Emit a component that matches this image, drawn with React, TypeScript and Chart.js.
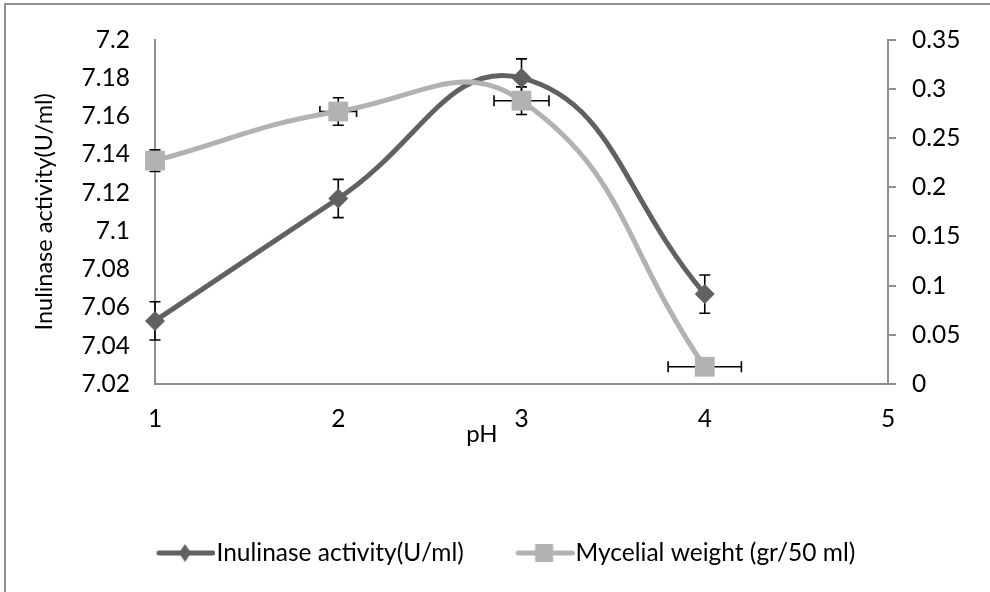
import React, { useEffect, useRef } from "react";
import { Chart, registerables } from "chart.js";

Chart.register(...registerables);

// ---- data ----
const phValues = [1, 2, 3, 4];
const inulinase = [7.053, 7.117, 7.18, 7.067];
const inulinaseErrY = [0.01, 0.01, 0.01, 0.01];
const mycelial = [0.227, 0.277, 0.288, 0.0175];
const mycelialErrY = [0.011, 0.014, 0.014, 0.005];
const mycelialErrX = [0, 0.1, 0.15, 0.2];
const leftTicks = [7.02, 7.04, 7.06, 7.08, 7.1, 7.12, 7.14, 7.16, 7.18, 7.2];
const rightTicks = [0, 0.05, 0.1, 0.15, 0.2, 0.25, 0.3, 0.35];
const xTicks = [1, 2, 3, 4, 5];
const seriesNames = ["Inulinase activity(U/ml)", "Mycelial weight (gr/50 ml)"];
const yTitle = "Inulinase activity(U/ml)";
const xTitle = "pH";

const DARK = "#616161";
const LIGHT = "#b2b2b2";
const AXIS = "#8e8e8e";
const FONT = "Lato";
const TICK_SIZE = 24.5;
const LEGEND_SIZE = 24.5;

function makeLegendImg(color: string, marker: "diamond" | "square") {
  const c = document.createElement("canvas");
  c.width = 70;
  c.height = 26;
  const g = c.getContext("2d")!;
  g.strokeStyle = color;
  g.lineWidth = 5;
  g.lineCap = "round";
  g.beginPath();
  g.moveTo(13.5, 13);
  g.lineTo(67.5, 13);
  g.stroke();
  g.fillStyle = color;
  const cx = 39.5;
  if (marker === "diamond") {
    g.beginPath();
    g.moveTo(cx, 4);
    g.lineTo(cx + 6, 13);
    g.lineTo(cx, 22);
    g.lineTo(cx - 6, 13);
    g.closePath();
    g.fill();
  } else {
    g.fillRect(cx - 9, 4, 18, 18);
  }
  return c;
}

const errorBarPlugin = {
  id: "errorBars",
  beforeDatasetsDraw(chart: any) {
    const ctx = chart.ctx;
    const xScale = chart.scales.x;
    chart.data.datasets.forEach((ds: any) => {
      const yScale = chart.scales[ds.yAxisID];
      const errY: number[] = ds.errY || [];
      const errX: number[] = ds.errX || [];
      ds.data.forEach((p: any, i: number) => {
        const px = xScale.getPixelForValue(p.x);
        const py = yScale.getPixelForValue(p.y);
        ctx.save();
        ctx.strokeStyle = "#000";
        ctx.lineWidth = 1.6;
        const cap = 5.5;
        if (errY[i]) {
          const y1 = yScale.getPixelForValue(p.y + errY[i]);
          const y2 = yScale.getPixelForValue(p.y - errY[i]);
          ctx.beginPath();
          ctx.moveTo(px, y1);
          ctx.lineTo(px, y2);
          ctx.moveTo(px - cap, y1);
          ctx.lineTo(px + cap, y1);
          ctx.moveTo(px - cap, y2);
          ctx.lineTo(px + cap, y2);
          ctx.stroke();
        }
        if (errX[i]) {
          const x1 = xScale.getPixelForValue(p.x - errX[i]);
          const x2 = xScale.getPixelForValue(p.x + errX[i]);
          ctx.beginPath();
          ctx.moveTo(x1, py);
          ctx.lineTo(x2, py);
          ctx.moveTo(x1, py - cap);
          ctx.lineTo(x1, py + cap);
          ctx.moveTo(x2, py - cap);
          ctx.lineTo(x2, py + cap);
          ctx.stroke();
        }
        ctx.restore();
      });
    });
  },
};

const xTitlePlugin = {
  id: "xTitleLabel",
  afterDraw(chart: any) {
    const { ctx, chartArea } = chart;
    ctx.save();
    ctx.font = `24px ${FONT}`;
    ctx.fillStyle = "#000";
    ctx.textAlign = "center";
    ctx.textBaseline = "middle";
    const x = chartArea.left + 0.446 * (chartArea.right - chartArea.left);
    ctx.fillText(xTitle, x, chartArea.bottom + 50);
    ctx.restore();
  },
};

export default function App() {
  const ref = useRef<HTMLCanvasElement>(null);

  useEffect(() => {
    if (!ref.current) return;
    const legendImgs = [makeLegendImg(DARK, "diamond"), makeLegendImg(LIGHT, "square")];
    const chart = new Chart(ref.current, {
      type: "line",
      data: {
        datasets: [
          {
            label: seriesNames[0],
            data: phValues.map((x, i) => ({ x, y: inulinase[i] })),
            yAxisID: "y",
            borderColor: DARK,
            backgroundColor: DARK,
            borderWidth: 5,
            tension: 0.45,
            pointStyle: "rectRot",
            pointRadius: 10,
            pointBorderWidth: 0,
            pointBackgroundColor: DARK,
            clip: false,
            order: 1,
            errY: inulinaseErrY,
          } as any,
          {
            label: seriesNames[1],
            data: phValues.map((x, i) => ({ x, y: mycelial[i] })),
            yAxisID: "y1",
            borderColor: LIGHT,
            backgroundColor: LIGHT,
            borderWidth: 5,
            tension: 0.45,
            pointStyle: "rect",
            pointRadius: 14,
            pointBorderWidth: 0,
            pointBackgroundColor: LIGHT,
            clip: false,
            order: 0,
            errY: mycelialErrY,
            errX: mycelialErrX,
          } as any,
        ],
      },
      options: {
        animation: false,
        responsive: false,
        events: [],
        layout: { padding: { left: 22, right: 0, top: 38, bottom: 16.75 } },
        scales: {
          x: {
            type: "linear",
            min: 1,
            max: 5,
            afterBuildTicks: (s: any) => {
              s.ticks = xTicks.map((v) => ({ value: v }));
            },
            afterFit: (s: any) => {
              s.height = 104.75;
            },
            grid: { display: false, drawTicks: false },
            border: { display: true, color: AXIS, width: 2 },
            ticks: {
              color: "#000",
              font: { family: FONT, size: TICK_SIZE },
              padding: 20,
              maxRotation: 0,
              callback: (v: any) => String(v),
            },
          },
          y: {
            type: "linear",
            position: "left",
            min: 7.02,
            max: 7.2,
            afterBuildTicks: (s: any) => {
              s.ticks = leftTicks.map((v) => ({ value: v }));
            },
            afterFit: (s: any) => {
              s.width = 133;
            },
            grid: { display: false, drawTicks: false },
            border: { display: true, color: AXIS, width: 2 },
            ticks: {
              color: "#000",
              font: { family: FONT, size: TICK_SIZE },
              padding: 25,
              callback: (v: any) => String(v),
            },
            title: {
              display: true,
              text: yTitle,
              color: "#000",
              font: { family: FONT, size: 23.5 },
              padding: { top: 8, bottom: 0 },
            },
          },
          y1: {
            type: "linear",
            position: "right",
            min: 0,
            max: 0.35,
            afterBuildTicks: (s: any) => {
              s.ticks = rightTicks.map((v) => ({ value: v }));
            },
            afterFit: (s: any) => {
              s.width = 102;
            },
            grid: {
              display: true,
              drawOnChartArea: false,
              drawTicks: true,
              tickLength: 8,
              color: AXIS,
              lineWidth: 2,
            },
            border: { display: true, color: AXIS, width: 2 },
            ticks: {
              color: "#000",
              font: { family: FONT, size: TICK_SIZE },
              padding: 16,
              callback: (v: any) => String(v),
            },
          },
        },
        plugins: {
          tooltip: { enabled: false },
          legend: {
            display: true,
            position: "bottom",
            labels: {
              usePointStyle: true,
              pointStyleWidth: 47.5,
              padding: 52,
              color: "#000",
              font: { family: FONT, size: LEGEND_SIZE },
              sort: (a: any, b: any) => a.datasetIndex - b.datasetIndex,
              generateLabels: (c: any) => {
                const items = (Chart.defaults.plugins.legend.labels as any).generateLabels(c);
                items.forEach((it: any) => {
                  it.pointStyle = legendImgs[it.datasetIndex];
                  it.fontColor = "#000";
                });
                return items;
              },
            },
          },
        },
      } as any,
      plugins: [errorBarPlugin, xTitlePlugin],
    });
    return () => chart.destroy();
  }, []);

  return (
    <div style={{ position: "fixed", left: 0, top: 0, width: 990, height: 592, background: "#fff", overflow: "hidden" }}>
      <div
        style={{
          position: "absolute",
          left: 4,
          top: 3,
          width: 1100,
          height: 700,
          border: "2px solid #8f8f8f",
        }}
      />
      <canvas ref={ref} width={990} height={592} style={{ position: "absolute", left: 0, top: 0, width: 990, height: 592 }} />
    </div>
  );
}
